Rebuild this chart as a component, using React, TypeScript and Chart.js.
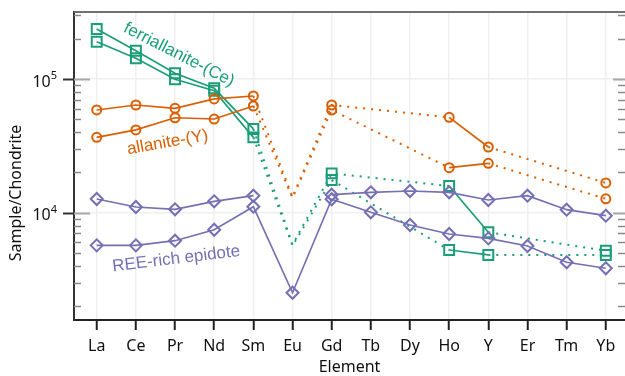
import React, { useEffect, useRef } from 'react';
import { Chart, registerables } from 'chart.js';

Chart.register(...registerables);

// ---- data ----
const elements = ['La', 'Ce', 'Pr', 'Nd', 'Sm', 'Eu', 'Gd', 'Tb', 'Dy', 'Ho', 'Y', 'Er', 'Tm', 'Yb'];

// null = not measured; values listed in `*Estimated` are interpolated (drawn without marker, dotted)
const ferriallaniteA = [236600, 162800, 110300, 85200, 42300, 5750, 19700, null, null, 15840, 7135, null, null, 5200];
const ferriallaniteB = [190100, 142800, 99500, 81700, 36600, 5650, 17560, null, null, 5260, 4830, null, null, 4830];
const allaniteA = [58650, 63900, 60400, 70900, 74600, 13100, 63900, null, null, 51700, 31000, null, null, 16700];
const allaniteB = [36600, 41600, 51300, 50200, 62800, 12900, 58600, null, null, 21700, 23400, null, null, 12700];
const epidoteA = [12660, 11030, 10600, 12170, 13400, null, 13630, 14210, 14530, 14210, 12450, 13400, 10530, 9500];
const epidoteB = [5700, 5700, 6175, 7460, 11090, 2520, 12600, 10070, 8090, 6930, 6430, 5640, 4260, 3840];

const ferriallaniteEstimated = [5];
const allaniteEstimated = [5];
const epidoteEstimated: number[] = [];

const yMin = 1576;
const yMax = 317000;
const yMajorTicks = [1e4, 1e5];

const GREEN = '#1b9e77';
const ORANGE = '#d95f02';
const PURPLE = '#7570b3';

const labels = [
  { text: 'ferriallanite-(Ce)', x: 2.1, y: 151700, angle: 27, color: GREEN },
  { text: 'allanite-(Y)', x: 1.81, y: 33500, angle: -10, color: ORANGE },
  { text: 'REE-rich epidote', x: 2.03, y: 4510, angle: -7, color: PURPLE },
];

const AXIS_FONT = "'Noto Sans', sans-serif";
const LABEL_FONT = "'Liberation Sans', Arial, sans-serif";

function makeDataset(
  values: (number | null)[],
  estimated: number[],
  color: string,
  pointStyle: string,
  radius: number,
  spanGaps: boolean
) {
  const isDotted = (ctx: any) =>
    (ctx.p0 && ctx.p0.skip) ||
    (ctx.p1 && ctx.p1.skip) ||
    values[ctx.p0DataIndex] === null ||
    values[ctx.p1DataIndex] === null ||
    estimated.includes(ctx.p0DataIndex) ||
    estimated.includes(ctx.p1DataIndex);
  return {
    data: values.map((v, i) => ({ x: i, y: v })),
    borderColor: color,
    backgroundColor: 'rgba(0,0,0,0)',
    pointBorderColor: color,
    pointBackgroundColor: 'rgba(0,0,0,0)',
    pointBorderWidth: 2,
    pointStyle,
    pointRadius: (ctx: any) => (estimated.includes(ctx.dataIndex) ? 0 : radius),
    pointHoverRadius: radius,
    borderWidth: 1.7,
    spanGaps,
    tension: 0,
    clip: false,
    segment: {
      borderDash: (ctx: any) => (isDotted(ctx) ? [2, 6] : undefined),
      borderWidth: (ctx: any) => (isDotted(ctx) ? 2 : undefined),
    },
  };
}

const framePlugin = {
  id: 'frame',
  beforeDatasetsDraw(chart: any) {
    const { ctx, chartArea } = chart;
    const { left, right, top } = chartArea;
    const y = chart.scales.y;
    ctx.save();
    // top border
    ctx.strokeStyle = '#707070';
    ctx.lineWidth = 2;
    ctx.beginPath();
    ctx.moveTo(left, top);
    ctx.lineTo(right, top);
    ctx.stroke();
    // log ticks
    for (let e = 3; e <= 5; e++) {
      for (let m = 1; m <= 9; m++) {
        const v = m * Math.pow(10, e);
        if (v < y.min || v > y.max) continue;
        const py = Math.round(y.getPixelForValue(v)) + 0.5;
        if (m === 1) {
          ctx.lineWidth = 2;
          ctx.strokeStyle = '#333';
          ctx.beginPath();
          ctx.moveTo(left - 11, py);
          ctx.lineTo(left, py);
          ctx.stroke();
          ctx.strokeStyle = '#a8a8a8';
          ctx.beginPath();
          ctx.moveTo(left, py);
          ctx.lineTo(left + 16, py);
          ctx.moveTo(right - 12, py);
          ctx.lineTo(right, py);
          ctx.stroke();
        } else {
          ctx.lineWidth = 1.5;
          ctx.strokeStyle = '#8a8a8a';
          ctx.beginPath();
          ctx.moveTo(left, py);
          ctx.lineTo(left + 7, py);
          ctx.moveTo(right - 7, py);
          ctx.lineTo(right, py);
          ctx.stroke();
        }
      }
    }
    // y tick labels 10^n
    ctx.fillStyle = '#111';
    for (const v of yMajorTicks) {
      const py = y.getPixelForValue(v);
      const exp = String(Math.round(Math.log10(v)));
      ctx.textAlign = 'right';
      ctx.textBaseline = 'middle';
      ctx.font = `11px ${AXIS_FONT}`;
      const ew = ctx.measureText(exp).width;
      ctx.fillText(exp, 57, py - 3);
      ctx.font = `16px ${AXIS_FONT}`;
      ctx.fillText('10', 57 - ew, py + 3);
    }
    // y title
    ctx.save();
    ctx.translate(16, 193);
    ctx.rotate(-Math.PI / 2);
    ctx.font = `16px ${AXIS_FONT}`;
    ctx.textAlign = 'center';
    ctx.textBaseline = 'middle';
    ctx.fillStyle = '#111';
    ctx.fillText('Sample/Chondrite', 0, 0);
    ctx.restore();
    ctx.restore();
  },
  afterDatasetsDraw(chart: any) {
    const { ctx } = chart;
    const xs = chart.scales.x;
    const ys = chart.scales.y;
    ctx.save();
    for (const l of labels) {
      const px = xs.getPixelForValue(l.x);
      const py = ys.getPixelForValue(l.y);
      ctx.save();
      ctx.translate(px, py);
      ctx.rotate((l.angle * Math.PI) / 180);
      ctx.font = `17px ${LABEL_FONT}`;
      ctx.fillStyle = l.color;
      ctx.textAlign = 'center';
      ctx.textBaseline = 'middle';
      ctx.fillText(l.text, 0, 0);
      ctx.restore();
    }
    ctx.restore();
  },
};

export default function App() {
  const ref = useRef<HTMLCanvasElement | null>(null);
  useEffect(() => {
    if (!ref.current) return;
    const chart = new Chart(ref.current, {
      type: 'line',
      data: {
        datasets: [
          makeDataset(epidoteA, epidoteEstimated, PURPLE, 'rectRot', 6, false),
          makeDataset(epidoteB, epidoteEstimated, PURPLE, 'rectRot', 6, true),
          makeDataset(allaniteA, allaniteEstimated, ORANGE, 'circle', 4.5, true),
          makeDataset(allaniteB, allaniteEstimated, ORANGE, 'circle', 4.5, true),
          makeDataset(ferriallaniteA, ferriallaniteEstimated, GREEN, 'rect', 7, true),
          makeDataset(ferriallaniteB, ferriallaniteEstimated, GREEN, 'rect', 7, true),
        ] as any,
      },
      options: {
        animation: false,
        responsive: false,
        events: [],
        layout: { autoPadding: false, padding: { top: 12, right: 0, left: 0, bottom: 0 } },
        plugins: { legend: { display: false }, tooltip: { enabled: false }, title: { display: false } },
        scales: {
          x: {
            type: 'linear',
            min: -0.58,
            max: 13.49,
            afterBuildTicks: (s: any) => {
              s.ticks = elements.map((_, i) => ({ value: i }));
            },
            afterFit: (s: any) => {
              s.height = 56;
              s.paddingLeft = 0;
              s.paddingRight = 0;
            },
            grid: {
              color: '#efefef',
              lineWidth: 1.5,
              drawTicks: true,
              tickLength: 10,
              tickColor: '#222',
              tickWidth: 2,
            },
            border: { display: true, color: '#222', width: 2 },
            ticks: {
              callback: (v: any) => elements[v] ?? '',
              font: { family: AXIS_FONT, size: 16 },
              color: '#111',
              padding: 7,
              maxRotation: 0,
              autoSkip: false,
            },
            title: {
              display: true,
              text: 'Element',
              font: { family: AXIS_FONT, size: 16, lineHeight: 1 },
              color: '#111',
              padding: { top: 0, bottom: 0.5 },
            },
          },
          y: {
            type: 'logarithmic',
            min: yMin,
            max: yMax,
            afterBuildTicks: (s: any) => {
              s.ticks = yMajorTicks.map((v) => ({ value: v }));
            },
            afterFit: (s: any) => {
              s.width = 74;
              s.paddingTop = 0;
              s.paddingBottom = 0;
            },
            grid: { color: '#efefef', lineWidth: 1.5, drawTicks: false },
            border: { display: true, color: '#333', width: 2 },
            ticks: { display: false },
            title: { display: false },
          },
        },
      } as any,
      plugins: [framePlugin],
    });
    return () => chart.destroy();
  }, []);
  return (
    <div style={{ position: 'fixed', left: 0, top: 0, width: 625, height: 376, background: '#fff' }}>
      <canvas ref={ref} width={625} height={376} style={{ display: 'block' }} />
    </div>
  );
}
